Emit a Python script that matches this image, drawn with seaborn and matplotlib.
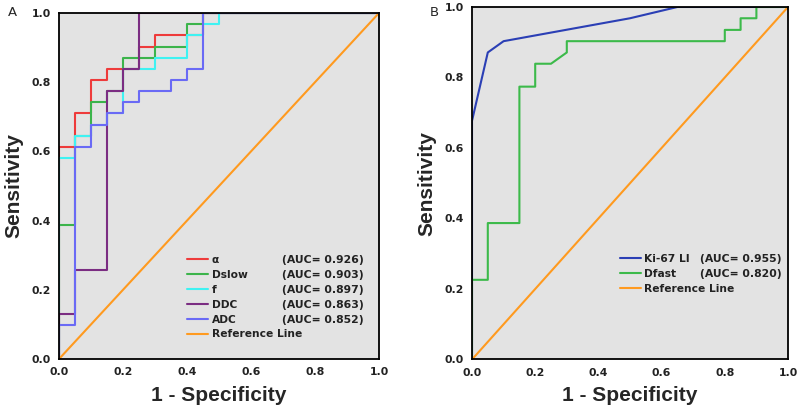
import matplotlib
matplotlib.use("Agg")
import matplotlib.pyplot as plt
import pandas as pd
import seaborn as sns

# Panel A: ROC vertices (1 - specificity, sensitivity)
alpha_fpr = [0, 0, 0.05, 0.05, 0.10, 0.10, 0.15, 0.15, 0.25, 0.25, 0.30, 0.30, 0.45, 0.45, 1.0]
alpha_tpr = [0, 0.613, 0.613, 0.710, 0.710, 0.806, 0.806, 0.839, 0.839, 0.903, 0.903, 0.935, 0.935, 1.0, 1.0]

dslow_fpr = [0, 0, 0.05, 0.05, 0.10, 0.10, 0.15, 0.15, 0.20, 0.20, 0.30, 0.30, 0.40, 0.40, 0.45, 0.45, 1.0]
dslow_tpr = [0, 0.387, 0.387, 0.645, 0.645, 0.742, 0.742, 0.774, 0.774, 0.871, 0.871, 0.903, 0.903, 0.968, 0.968, 1.0, 1.0]

f_fpr = [0, 0, 0.05, 0.05, 0.10, 0.10, 0.15, 0.15, 0.20, 0.20, 0.30, 0.30, 0.40, 0.40, 0.45, 0.45, 0.50, 0.50, 1.0]
f_tpr = [0, 0.581, 0.581, 0.645, 0.645, 0.677, 0.677, 0.710, 0.710, 0.839, 0.839, 0.871, 0.871, 0.935, 0.935, 0.968, 0.968, 1.0, 1.0]

ddc_fpr = [0, 0, 0.05, 0.05, 0.15, 0.15, 0.20, 0.20, 0.25, 0.25, 1.0]
ddc_tpr = [0, 0.129, 0.129, 0.258, 0.258, 0.774, 0.774, 0.839, 0.839, 1.0, 1.0]

adc_fpr = [0, 0, 0.05, 0.05, 0.10, 0.10, 0.15, 0.15, 0.20, 0.20, 0.25, 0.25, 0.35, 0.35, 0.40, 0.40, 0.45, 0.45, 1.0]
adc_tpr = [0, 0.097, 0.097, 0.613, 0.613, 0.677, 0.677, 0.710, 0.710, 0.742, 0.742, 0.774, 0.774, 0.806, 0.806, 0.839, 0.839, 1.0, 1.0]

# Panel B
ki67_fpr = [0, 0, 0.05, 0.10, 0.50, 0.65, 1.0]
ki67_tpr = [0, 0.677, 0.871, 0.903, 0.968, 1.0, 1.0]

dfast_fpr = [0, 0, 0.05, 0.05, 0.15, 0.15, 0.20, 0.20, 0.25, 0.30, 0.30, 0.80, 0.80, 0.85, 0.85, 0.90, 0.90, 1.0]
dfast_tpr = [0, 0.226, 0.226, 0.387, 0.387, 0.774, 0.774, 0.839, 0.839, 0.871, 0.903, 0.903, 0.935, 0.935, 0.968, 0.968, 1.0, 1.0]

ref_fpr = [0, 1]
ref_tpr = [0, 1]

names_a = ["α", "Dslow", "f", "DDC", "ADC", "Reference Line"]
aucs_a = ["(AUC= 0.926)", "(AUC= 0.903)", "(AUC= 0.897)", "(AUC= 0.863)", "(AUC= 0.852)"]
colors_a = ["#ee3b3b", "#3cb44b", "#3ff2f2", "#7b2d82", "#6a6af5", "#ff9a1f"]

names_b = ["Ki-67 LI", "Dfast", "Reference Line"]
aucs_b = ["(AUC= 0.955)", "(AUC= 0.820)"]
colors_b = ["#2b3fb5", "#3cba4a", "#ff9a1f"]

curves_a = [(alpha_fpr, alpha_tpr), (dslow_fpr, dslow_tpr), (f_fpr, f_tpr),
            (ddc_fpr, ddc_tpr), (adc_fpr, adc_tpr), (ref_fpr, ref_tpr)]
curves_b = [(ki67_fpr, ki67_tpr), (dfast_fpr, dfast_tpr), (ref_fpr, ref_tpr)]


def to_frame(names, curves):
    parts = []
    for name, (x, y) in zip(names, curves):
        parts.append(pd.DataFrame({"fpr": x, "tpr": y, "curve": name}))
    return pd.concat(parts, ignore_index=True)


sns.set_style("white")
plt.rcParams["font.family"] = ["DejaVu Sans"]

fig = plt.figure(figsize=(8, 4.18), dpi=100)
ax_a = fig.add_axes([0.07375, 0.1411, 0.4, 0.8278])
ax_b = fig.add_axes([0.59, 0.14, 0.395, 0.8433])


def draw_panel(ax, names, curves, colors, aucs, leg_x, leg_y, auc_x):
    df = to_frame(names, curves)
    sns.lineplot(data=df, x="fpr", y="tpr", hue="curve", hue_order=names,
                 palette=colors, sort=False, estimator=None, lw=1.5, ax=ax)
    ax.set_facecolor("#e3e3e3")
    ax.set_xlim(0, 1)
    ax.set_ylim(0, 1)
    ticks = [0, 0.2, 0.4, 0.6, 0.8, 1.0]
    ax.set_xticks(ticks)
    ax.set_yticks(ticks)
    ax.set_xticklabels([f"{t:.1f}" for t in ticks])
    ax.set_yticklabels([f"{t:.1f}" for t in ticks])
    ax.tick_params(direction="out", length=4, width=1.1, color="black",
                   labelsize=7.8, labelcolor="#222222", pad=2)
    for lab in ax.get_xticklabels() + ax.get_yticklabels():
        lab.set_fontweight("bold")
    for sp in ax.spines.values():
        sp.set_visible(True)
        sp.set_color("black")
        sp.set_linewidth(1.3)
    ax.set_xlabel("1 - Specificity", family="Liberation Sans", fontsize=15,
                  fontweight="bold", labelpad=6)
    ax.set_ylabel("Sensitivity", family="Liberation Sans", fontsize=15,
                  fontweight="bold", labelpad=6)

    handles, labels = ax.get_legend_handles_labels()
    leg = ax.legend(handles, labels, loc="upper left", bbox_to_anchor=(leg_x, leg_y),
                    frameon=False, borderpad=0, borderaxespad=0, handlelength=2.0,
                    handletextpad=0.3, labelspacing=0.46,
                    prop={"size": 7.7, "weight": "bold"})
    for h in leg.get_lines():
        h.set_linewidth(1.5)
    fig.canvas.draw()
    inv = ax.transAxes.inverted()
    for txt, auc in zip(leg.get_texts(), aucs):
        bb = txt.get_window_extent()
        y = inv.transform((0, (bb.y0 + bb.y1) / 2))[1]
        ax.text(auc_x, y, auc, transform=ax.transAxes, va="center", ha="left",
                fontsize=7.8, fontweight="bold", color="#222222")
    for txt in leg.get_texts():
        txt.set_color("#222222")


draw_panel(ax_a, names_a, curves_a, colors_a, aucs_a, 0.40, 0.301, 0.697)
draw_panel(ax_b, names_b, curves_b, colors_b, aucs_b, 0.468, 0.299, 0.722)

fig.text(12 / 800, 1 - 13 / 418, "A", fontsize=9.5, ha="center", va="center")
fig.text(434 / 800, 1 - 13 / 418, "B", fontsize=9.5, ha="center", va="center")

fig.savefig("out.png", dpi=100)
